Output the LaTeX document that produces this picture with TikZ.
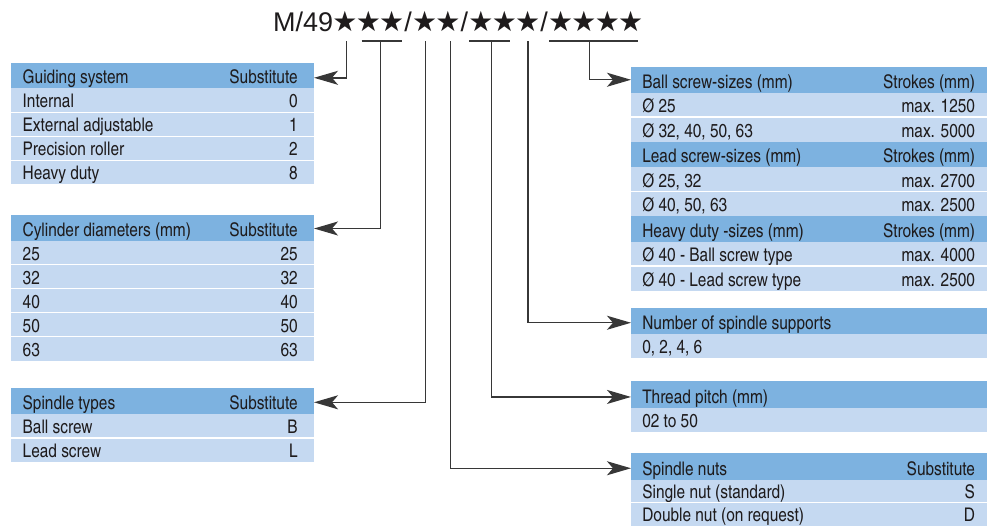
\documentclass[tikz,border=0pt]{standalone}
\usepackage{fontspec}
\setmainfont{texgyreheroscn-regular.otf}
\newfontfamily\titlefont{Liberation Sans}
\newfontfamily\starfont{DejaVu Sans}
\usetikzlibrary{arrows.meta}
\definecolor{hdrblue}{RGB}{125,178,224}
\definecolor{rowblue}{RGB}{197,217,241}
\definecolor{ink}{RGB}{30,27,28}
\definecolor{linegray}{RGB}{55,55,55}
\tikzset{
  cell/.style={anchor=north west, inner sep=0pt, outer sep=0pt, text=ink,
    font=\fontsize{18.8}{22}\selectfont},
  hdr/.style={cell, fill=hdrblue},
  lrow/.style={cell, fill=rowblue},
  sepline/.style={draw=white, line width=1.6pt},
  conn/.style={draw=linegray, line width=1.4pt, -{Stealth[length=24pt,width=14pt,inset=6pt]}},
  barline/.style={draw=linegray, line width=1.4pt},
}
\newcommand\tcell[7]{%
  \node[#1, text height={#5pt-4.4pt}, text depth=4.4pt] (#2) at (#3,#4)
    {\makebox[\tabw][l]{\hspace*{\padl}#6\hfill#7\hspace*{\padr}}};}
\newcommand\starbox{\makebox[23.4pt]{\starfont\fontsize{28}{28}\selectfont ★}}
\newcommand\slashbox{\makebox[9.5pt]{/}}
\begin{document}
\begin{tikzpicture}[x=1pt,y=-1pt]
\useasboundingbox (0,0) rectangle (995,525);

% title
\node[anchor=base west, inner sep=0pt, text=ink, font=\titlefont\fontsize{27}{30}\selectfont] (title) at (273,31.7)
  {M/49\starbox\starbox\starbox\slashbox\starbox\starbox\slashbox\starbox\starbox\starbox\slashbox\starbox\starbox\starbox\starbox};

% ---------- left tables
\def\tabw{303pt}\def\padl{11.7pt}\def\padr{16.3pt}
\tcell{hdr}{gsh}{11}{63.3}{25}{Guiding system}{Substitute}
\tcell{lrow}{gs1}{11}{88.3}{24}{Internal}{0}
\tcell{lrow}{gs2}{11}{112.3}{24}{External adjustable}{1}
\tcell{lrow}{gs3}{11}{136.3}{24}{Precision roller}{2}
\tcell{lrow}{gs4}{11}{160.3}{24}{Heavy duty}{8}
\foreach \n in {gs1,gs2,gs3} \draw[sepline] (\n.south west) -- (\n.south east);

\tcell{hdr}{cyh}{11}{214.5}{26}{Cylinder diameters (mm)}{Substitute}
\tcell{lrow}{cy1}{11}{240.5}{24}{25}{25}
\tcell{lrow}{cy2}{11}{264.5}{24}{32}{32}
\tcell{lrow}{cy3}{11}{288.5}{24}{40}{40}
\tcell{lrow}{cy4}{11}{312.5}{24}{50}{50}
\tcell{lrow}{cy5}{11}{336.5}{24}{63}{63}
\foreach \n in {cy1,cy2,cy3,cy4} \draw[sepline] (\n.south west) -- (\n.south east);

\tcell{hdr}{sth}{11}{388}{26}{Spindle types}{Substitute}
\tcell{lrow}{st1}{11}{414}{24}{Ball screw}{B}
\tcell{lrow}{st2}{11}{438}{24}{Lead screw}{L}
\draw[sepline] (st1.south west) -- (st1.south east);

% ---------- right tables
\def\tabw{356pt}\def\padl{11.3pt}\def\padr{12pt}
\tcell{hdr}{bsh}{631}{67}{25.5}{Ball screw-sizes (mm)}{Strokes (mm)}
\tcell{lrow}{bs1}{631}{92.5}{24.5}{Ø 25}{max. 1250}
\tcell{lrow}{bs2}{631}{117}{24.5}{Ø 32, 40, 50, 63}{max. 5000}
\tcell{hdr}{lsh}{631}{141.5}{25.5}{Lead screw-sizes (mm)}{Strokes (mm)}
\tcell{lrow}{ls1}{631}{167}{24.5}{Ø 25, 32}{max. 2700}
\tcell{lrow}{ls2}{631}{191.5}{24.5}{Ø 40, 50, 63}{max. 2500}
\tcell{hdr}{hdh}{631}{216}{25.5}{Heavy duty -sizes (mm)}{Strokes (mm)}
\tcell{lrow}{hd1}{631}{241.5}{24.5}{Ø 40 - Ball screw type}{max. 4000}
\tcell{lrow}{hd2}{631}{266}{24.5}{Ø 40 - Lead screw type}{max. 2500}
\foreach \n in {bs1,ls1,hd1} \draw[sepline] (\n.south west) -- (\n.south east);

\tcell{hdr}{suh}{631}{307.5}{26.5}{Number of spindle supports}{}
\tcell{lrow}{su1}{631}{334}{23.5}{0, 2, 4, 6}{}

\tcell{hdr}{thh}{631}{381}{26.5}{Thread pitch (mm)}{}
\tcell{lrow}{th1}{631}{407.5}{24}{02 to 50}{}

\tcell{hdr}{nuh}{631}{453}{26.5}{Spindle nuts}{Substitute}
\tcell{lrow}{nu1}{631}{479.5}{23}{Single nut (standard)}{S}
\tcell{lrow}{nu2}{631}{502.5}{23.5}{Double nut (on request)}{D}
\draw[sepline] (nu1.south west) -- (nu1.south east);

% ---------- connectors
\coordinate (g0) at (346.7,41);
\coordinate (cbl) at (361.7,41); \coordinate (cbr) at (401.7,41); \coordinate (c0) at (380.5,41);
\coordinate (s0) at (425.5,41);
\coordinate (n0) at (450.5,41);
\coordinate (tbl) at (469,41); \coordinate (tbr) at (510,41); \coordinate (t0) at (491.5,41);
\coordinate (p0) at (528,41);
\coordinate (bbl) at (549,41); \coordinate (bbr) at (638,41); \coordinate (b0) at (589.5,41);

\draw[barline] (cbl) -- (cbr);
\draw[barline] (tbl) -- (tbr);
\draw[barline] (bbl) -- (bbr);

\draw[conn] (g0) |- ([yshift=-2pt]gsh.east);
\draw[conn] (c0) |- ([yshift=-1pt]cyh.east);
\draw[conn] (s0) |- ([yshift=-1.3pt]sth.east);
\draw[conn] (n0) |- ([yshift=-2pt]nuh.west);
\draw[conn] (t0) |- ([yshift=-2.7pt]thh.west);
\draw[conn] (p0) |- ([yshift=-2pt]suh.west);
\draw[conn] (b0) |- (bsh.west);
\end{tikzpicture}
\end{document}
